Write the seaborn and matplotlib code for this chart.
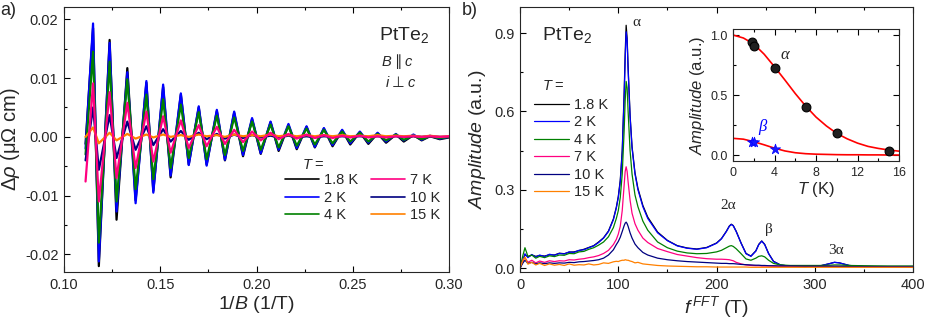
import matplotlib
matplotlib.use("Agg")
import matplotlib.pyplot as plt
import seaborn as sns
from matplotlib.ticker import MultipleLocator, FormatStrFormatter

# ================================
# DATA - panel a (oscillations vs 1/B, extrema)
# ================================
inv_b = [0.1112,
         0.1151, 0.1181, 0.1237, 0.1273, 0.1329, 0.1372, 0.1428, 0.1464,
         0.1515, 0.1554, 0.1607, 0.1648, 0.1700, 0.1741, 0.1794, 0.1836,
         0.1884, 0.1930, 0.1977, 0.2022, 0.2073, 0.2115, 0.2166, 0.2209,
         0.2260, 0.2303, 0.2350, 0.2395, 0.2445, 0.2487, 0.2537, 0.2581,
         0.2629, 0.2673, 0.2724, 0.2765, 0.2815, 0.2858, 0.2901, 0.2952,
         0.3000]

drho_1p8K = [-0.0012,
             0.0185, -0.0220, 0.0165, -0.0141, 0.0117, -0.0108, 0.0092, -0.0092,
             0.0085, -0.0069, 0.0072, -0.0047, 0.0050, -0.0047, 0.0044, -0.0040,
             0.0041, -0.0033, 0.0030, -0.0029, 0.0025, -0.0024, 0.0020, -0.0021,
             0.0017, -0.0018, 0.0014, -0.0016, 0.0011, -0.0013, 0.0008, -0.0012,
             0.0006, -0.0010, 0.0004, -0.0008, 0.0003, -0.0006, 0.0001, -0.0004,
             -0.0001]
drho_2K = [-0.0020,
           0.0193, -0.0212, 0.0160, -0.0127, 0.0110, -0.0113, 0.0095, -0.0095,
           0.0089, -0.0066, 0.0074, -0.0048, 0.0052, -0.0049, 0.0046, -0.0039,
           0.0043, -0.0031, 0.0032, -0.0028, 0.0026, -0.0022, 0.0022, -0.0019,
           0.0018, -0.0017, 0.0015, -0.0014, 0.0012, -0.0011, 0.0009, -0.0010,
           0.0007, -0.0008, 0.0005, -0.0006, 0.0004, -0.0005, 0.0002, -0.0003,
           0.0000]
drho_4K = [-0.0030,
           0.0145, -0.0180, 0.0128, -0.0110, 0.0098, -0.0089, 0.0072, -0.0072,
           0.0064, -0.0053, 0.0055, -0.0036, 0.0042, -0.0038, 0.0036, -0.0031,
           0.0033, -0.0024, 0.0026, -0.0022, 0.0021, -0.0018, 0.0018, -0.0015,
           0.0014, -0.0013, 0.0012, -0.0011, 0.0009, -0.0008, 0.0007, -0.0008,
           0.0005, -0.0006, 0.0004, -0.0005, 0.0002, -0.0004, 0.0001, -0.0002,
           0.0000]
drho_7K = [-0.0076,
           0.0091, -0.0110, 0.0076, -0.0070, 0.0058, -0.0053, 0.0043, -0.0042,
           0.0035, -0.0027, 0.0028, -0.0019, 0.0020, -0.0016, 0.0017, -0.0012,
           0.0012, -0.0009, 0.0009, -0.0006, 0.0007, -0.0004, 0.0005, -0.0003,
           0.0004, -0.0002, 0.0003, -0.0002, 0.0002, -0.0001, 0.0002, -0.0001,
           0.0001, -0.0001, 0.0001, 0.0000, 0.0001, 0.0000, 0.0001, 0.0000,
           0.0001]
drho_10K = [-0.0040,
            0.0050, -0.0056, 0.0037, -0.0036, 0.0026, -0.0022, 0.0018, -0.0014,
            0.0013, -0.0008, 0.0010, -0.0005, 0.0007, -0.0004, 0.0005, -0.0003,
            0.0004, -0.0002, 0.0003, -0.0001, 0.0002, -0.0001, 0.0002, -0.0001,
            0.0001, -0.0001, 0.0001, 0.0000, 0.0001, 0.0000, 0.0001, 0.0000,
            0.0001, 0.0000, 0.0001, 0.0000, 0.0001, 0.0000, 0.0001, 0.0000,
            0.0000]
drho_15K = [0.0000,
            0.0016, -0.0011, 0.0007, -0.0006, 0.0005, -0.0003, 0.0004, -0.0001,
            0.0004, 0.0000, 0.0003, 0.0000, 0.0004, 0.0001, 0.0003, 0.0000,
            0.0004, 0.0001, 0.0003, 0.0001, 0.0004, 0.0001, 0.0003, 0.0001,
            0.0003, 0.0001, 0.0003, 0.0001, 0.0003, 0.0001, 0.0002, 0.0001,
            0.0003, 0.0001, 0.0002, 0.0001, 0.0002, 0.0000, 0.0002, 0.0000,
            0.0001]

# ================================
# DATA - panel b (FFT amplitude)
# ================================
f_fft = [0, 3, 5, 8, 12, 16, 20, 25, 30, 35,
         40, 45, 50, 55, 60, 65, 70, 75, 80, 85,
         90, 95, 98, 100, 102, 104, 106, 107, 108, 109,
         110, 112, 114, 117, 120, 125, 130, 140, 150, 160,
         170, 180, 190, 200, 205, 210, 213, 215, 217, 220,
         225, 230, 235, 240, 243, 246, 249, 253, 258, 265,
         275, 290, 305, 315, 320, 325, 335, 350, 375, 400]

amp_1p8K = [0.000, 0.028, 0.052, 0.043, 0.050, 0.045, 0.048, 0.046, 0.051, 0.050,
            0.057, 0.055, 0.061, 0.062, 0.067, 0.072, 0.079, 0.086, 0.100, 0.116,
            0.142, 0.188, 0.233, 0.274, 0.336, 0.450, 0.675, 0.820, 0.930, 0.880,
            0.770, 0.585, 0.465, 0.365, 0.305, 0.240, 0.195, 0.138, 0.106, 0.086,
            0.077, 0.073, 0.079, 0.096, 0.113, 0.141, 0.161, 0.168, 0.163, 0.141,
            0.096, 0.056, 0.046, 0.066, 0.091, 0.104, 0.091, 0.056, 0.026, 0.012,
            0.007, 0.006, 0.008, 0.017, 0.022, 0.020, 0.010, 0.006, 0.005, 0.004]
amp_2K = [0.000, 0.030, 0.055, 0.040, 0.052, 0.042, 0.050, 0.044, 0.053, 0.049,
          0.056, 0.054, 0.062, 0.060, 0.068, 0.070, 0.078, 0.085, 0.098, 0.115,
          0.140, 0.185, 0.230, 0.270, 0.330, 0.440, 0.660, 0.800, 0.905, 0.870,
          0.760, 0.580, 0.460, 0.360, 0.300, 0.235, 0.190, 0.135, 0.105, 0.085,
          0.076, 0.072, 0.078, 0.095, 0.112, 0.140, 0.160, 0.167, 0.162, 0.140,
          0.095, 0.055, 0.045, 0.065, 0.090, 0.103, 0.090, 0.055, 0.025, 0.012,
          0.007, 0.006, 0.008, 0.017, 0.022, 0.020, 0.010, 0.006, 0.005, 0.004]
amp_4K = [0.000, 0.050, 0.078, 0.045, 0.050, 0.038, 0.045, 0.040, 0.047, 0.044,
          0.050, 0.049, 0.056, 0.055, 0.062, 0.064, 0.072, 0.078, 0.088, 0.100,
          0.120, 0.155, 0.190, 0.220, 0.270, 0.360, 0.530, 0.640, 0.715, 0.690,
          0.600, 0.450, 0.360, 0.280, 0.235, 0.180, 0.145, 0.100, 0.078, 0.065,
          0.058, 0.055, 0.056, 0.062, 0.068, 0.078, 0.084, 0.086, 0.083, 0.074,
          0.055, 0.035, 0.030, 0.038, 0.045, 0.047, 0.043, 0.030, 0.018, 0.012,
          0.010, 0.010, 0.010, 0.011, 0.012, 0.012, 0.010, 0.009, 0.008, 0.008]
amp_7K = [0.000, 0.030, 0.040, 0.022, 0.030, 0.020, 0.027, 0.022, 0.028, 0.025,
          0.028, 0.027, 0.032, 0.031, 0.034, 0.036, 0.040, 0.043, 0.048, 0.056,
          0.068, 0.090, 0.110, 0.130, 0.160, 0.220, 0.320, 0.370, 0.388, 0.370,
          0.330, 0.260, 0.210, 0.170, 0.145, 0.115, 0.098, 0.075, 0.063, 0.052,
          0.046, 0.040, 0.036, 0.034, 0.034, 0.033, 0.032, 0.030, 0.028, 0.022,
          0.016, 0.012, 0.010, 0.009, 0.009, 0.008, 0.008, 0.008, 0.007, 0.007,
          0.006, 0.006, 0.006, 0.006, 0.006, 0.006, 0.005, 0.005, 0.005, 0.005]
amp_10K = [0.000, 0.020, 0.030, 0.018, 0.022, 0.016, 0.020, 0.017, 0.020, 0.018,
           0.020, 0.019, 0.022, 0.021, 0.024, 0.025, 0.027, 0.029, 0.032, 0.038,
           0.050, 0.070, 0.090, 0.102, 0.118, 0.140, 0.163, 0.172, 0.176, 0.170,
           0.160, 0.135, 0.115, 0.092, 0.078, 0.060, 0.050, 0.038, 0.032, 0.028,
           0.025, 0.023, 0.021, 0.019, 0.018, 0.018, 0.017, 0.017, 0.017, 0.016,
           0.014, 0.013, 0.012, 0.011, 0.011, 0.010, 0.010, 0.009, 0.009, 0.008,
           0.008, 0.007, 0.007, 0.007, 0.007, 0.007, 0.006, 0.006, 0.006, 0.006]
amp_15K = [0.000, 0.030, 0.042, 0.015, 0.022, 0.012, 0.018, 0.010, 0.016, 0.011,
           0.014, 0.010, 0.016, 0.011, 0.013, 0.012, 0.016, 0.012, 0.014, 0.020,
           0.018, 0.024, 0.026, 0.025, 0.028, 0.030, 0.030, 0.032, 0.031, 0.030,
           0.030, 0.027, 0.025, 0.020, 0.022, 0.016, 0.014, 0.010, 0.008, 0.007,
           0.006, 0.005, 0.005, 0.004, 0.004, 0.004, 0.004, 0.004, 0.004, 0.004,
           0.004, 0.004, 0.003, 0.003, 0.003, 0.003, 0.003, 0.003, 0.003, 0.003,
           0.003, 0.003, 0.003, 0.003, 0.003, 0.003, 0.003, 0.003, 0.003, 0.003]

# ================================
# DATA - inset (amplitude vs T)
# ================================
t_alpha = [1.8, 2, 4, 7, 10, 15]
a_alpha = [0.94, 0.91, 0.725, 0.40, 0.18, 0.035]
t_beta = [1.8, 2, 4]
a_beta = [0.11, 0.105, 0.047]
t_fit = [0, 1, 2, 3, 4, 5, 6, 7, 8, 9, 10, 11, 12, 13, 14, 15, 16]
fit_alpha = [1.0, 0.975, 0.925, 0.84, 0.735, 0.625, 0.512, 0.408, 0.316,
             0.242, 0.18, 0.135, 0.099, 0.072, 0.055, 0.042, 0.032]
fit_beta = [0.139, 0.132, 0.111, 0.085, 0.057, 0.034, 0.019, 0.011, 0.007,
            0.005, 0.003, 0.002, 0.002, 0.001, 0.001, 0.0, 0.0]

temps = ["1.8 K", "2 K", "4 K", "7 K", "10 K", "15 K"]
colors = ["#000000", "#0000ff", "#008000", "#ff0080", "#000080", "#ff8000"]

# ================================
# STYLE
# ================================
sns.set_style("ticks")
plt.rcParams["font.family"] = ["Liberation Sans", "DejaVu Sans"]
plt.rcParams["mathtext.fontset"] = "custom"
plt.rcParams["mathtext.rm"] = "Liberation Sans"
plt.rcParams["mathtext.it"] = "Liberation Sans:italic"
plt.rcParams["mathtext.bf"] = "Liberation Sans:bold"
plt.rcParams["axes.unicode_minus"] = False
plt.rcParams["axes.linewidth"] = 0.8


def style_ticks(ax, size, right=False):
    ax.tick_params(which="both", direction="in", top=True, right=right,
                   labelsize=size, width=0.8, color="black", pad=4)
    ax.tick_params(which="major", length=4)
    ax.tick_params(which="minor", length=2.5)


def mixed_label(ax, x, y, parts, size):
    # italic letter / plain symbol / italic letter, placed one after another
    fig_ = ax.figure
    fig_.canvas.draw()
    renderer = fig_.canvas.get_renderer()
    t = ax.transData
    for txt, kw in parts:
        obj = ax.text(x, y, txt, fontsize=size, va="center", ha="left",
                      transform=t, **kw)
        bb = obj.get_window_extent(renderer=renderer)
        t = matplotlib.transforms.offset_copy(obj.get_transform(), fig=fig_,
                                              x=bb.width + 3, units="dots")


fig = plt.figure(figsize=(9.26, 3.23), dpi=100)
ax_a = fig.add_axes([0.0691, 0.1579, 0.4158, 0.8204])
ax_b = fig.add_axes([0.5616, 0.1579, 0.4244, 0.8204])
ax_in = fig.add_axes([0.7916, 0.5015, 0.1793, 0.4087])

# ================================
# PANEL A
# ================================
series_a = [drho_1p8K, drho_2K, drho_4K, drho_7K, drho_10K, drho_15K]
draw_order = [0, 1, 2, 4, 5, 3]
for i in draw_order:
    sns.lineplot(x=inv_b, y=series_a[i], ax=ax_a, color=colors[i], lw=1.6,
                 label=temps[i], sort=False, estimator=None)
handles, labels = ax_a.get_legend_handles_labels()
hmap = dict(zip(labels, handles))
ax_a.legend([hmap[t] for t in temps], temps, ncol=2, loc="upper left",
            bbox_to_anchor=(0.575, 0.372), frameon=False, fontsize=10.5,
            handlelength=2.3, handletextpad=0.35, columnspacing=0.9,
            labelspacing=0.22, borderpad=0, borderaxespad=0)
for h in ax_a.get_legend().get_lines():
    h.set_linewidth(1.2)

ax_a.set_xlim(0.10, 0.30)
ax_a.set_ylim(-0.0230, 0.0221)
ax_a.xaxis.set_major_locator(MultipleLocator(0.05))
ax_a.xaxis.set_minor_locator(MultipleLocator(0.025))
ax_a.yaxis.set_major_locator(MultipleLocator(0.01))
ax_a.yaxis.set_minor_locator(MultipleLocator(0.005))
ax_a.xaxis.set_major_formatter(FormatStrFormatter("%.2f"))
ax_a.yaxis.set_major_formatter(FormatStrFormatter("%.2f"))
style_ticks(ax_a, 10.5)
ax_a.set_xlabel("$1/B$ (1/T)", fontsize=14, labelpad=2)
ax_a.set_ylabel("$\\mathit{Δρ}$ (μΩ cm)", fontsize=14.5, labelpad=2)

ax_a.text(0.2635, 0.0174, "PtTe$_2$", fontsize=14, va="center", ha="left")
ax_a.text(0.2236, -0.0048, "$T$ =", fontsize=10.5, va="center", ha="left")

# ================================
# PANEL B
# ================================
series_b = [amp_1p8K, amp_2K, amp_4K, amp_7K, amp_10K, amp_15K]
for i in range(6):
    sns.lineplot(x=f_fft, y=series_b[i], ax=ax_b, color=colors[i], lw=0.9,
                 label=temps[i], sort=False, estimator=None)
ax_b.legend(loc="upper left", bbox_to_anchor=(0.036, 0.658), frameon=False,
            fontsize=10.5, handlelength=2.4, handletextpad=0.35,
            labelspacing=0.24, borderpad=0, borderaxespad=0)

ax_b.set_xlim(0, 400)
ax_b.set_ylim(-0.015, 1.0)
ax_b.xaxis.set_major_locator(MultipleLocator(100))
ax_b.xaxis.set_minor_locator(MultipleLocator(50))
ax_b.yaxis.set_major_locator(MultipleLocator(0.3))
ax_b.yaxis.set_minor_locator(MultipleLocator(0.15))
ax_b.yaxis.set_major_formatter(FormatStrFormatter("%.1f"))
style_ticks(ax_b, 10.5)
ax_b.set_xlabel("$f^{\\,FFT}$ (T)", fontsize=14, labelpad=2)
ax_b.set_ylabel("$Amplitude$ (a.u.)", fontsize=14, labelpad=4)

ax_b.text(22, 0.893, "PtTe$_2$", fontsize=14, va="center", ha="left")
ax_b.text(22, 0.697, "$T$ =", fontsize=10.5, va="center", ha="left")
serif = "Liberation Serif"
ax_b.text(118, 0.94, "α", fontsize=11, family=serif, ha="center", va="center")
ax_b.text(212, 0.241, "2α", fontsize=11, family=serif, ha="center", va="center")
ax_b.text(253, 0.146, "β", fontsize=11, family=serif, ha="center", va="center")
ax_b.text(322, 0.069, "3α", fontsize=11, family=serif, ha="center", va="center")

# ================================
# INSET
# ================================
sns.lineplot(x=t_fit, y=fit_alpha, ax=ax_in, color="#ff0000", lw=1.2,
             sort=False, estimator=None)
sns.lineplot(x=t_fit, y=fit_beta, ax=ax_in, color="#ff0000", lw=1.2,
             sort=False, estimator=None)
sns.scatterplot(x=t_alpha, y=a_alpha, ax=ax_in, color="#202020", s=40,
                edgecolor="black", linewidth=0.8, zorder=3)
sns.scatterplot(x=t_beta, y=a_beta, ax=ax_in, color="#1a1aff", marker="*",
                s=60, edgecolor="#0000ff", linewidth=0.5, zorder=3)
ax_in.set_xlim(0, 16)
ax_in.set_ylim(-0.05, 1.05)
ax_in.xaxis.set_major_locator(MultipleLocator(4))
ax_in.xaxis.set_minor_locator(MultipleLocator(2))
ax_in.yaxis.set_major_locator(MultipleLocator(0.5))
ax_in.yaxis.set_minor_locator(MultipleLocator(0.25))
ax_in.yaxis.set_major_formatter(FormatStrFormatter("%.1f"))
style_ticks(ax_in, 9, right=True)
ax_in.set_xlabel("$T$ (K)", fontsize=12, labelpad=1)
ax_in.set_ylabel("$Amplitude$ (a.u.)", fontsize=12, labelpad=2)
ax_in.text(5.0, 0.833, "α", fontsize=12, family=serif, style="italic",
           ha="center", va="center")
ax_in.text(2.8, 0.233, "β", fontsize=12, family=serif, style="italic",
           color="#0000ff", ha="center", va="center")

fig.text(0.0, 0.995, "a)", fontsize=13, va="top", ha="left")
fig.text(0.499, 0.995, "b)", fontsize=13, va="top", ha="left")

# B || c and i _|_ c, symbols from DejaVu Sans
ital = {"style": "italic"}
sym = {"family": "DejaVu Sans"}
mixed_label(ax_a, 0.2650, 0.0128, [("B", ital), ("∥", sym), ("c", ital)], 10.5)
mixed_label(ax_a, 0.2670, 0.0092, [("i", ital), ("⊥", sym), ("c", ital)], 10.5)

fig.savefig("out.png", dpi=100)
